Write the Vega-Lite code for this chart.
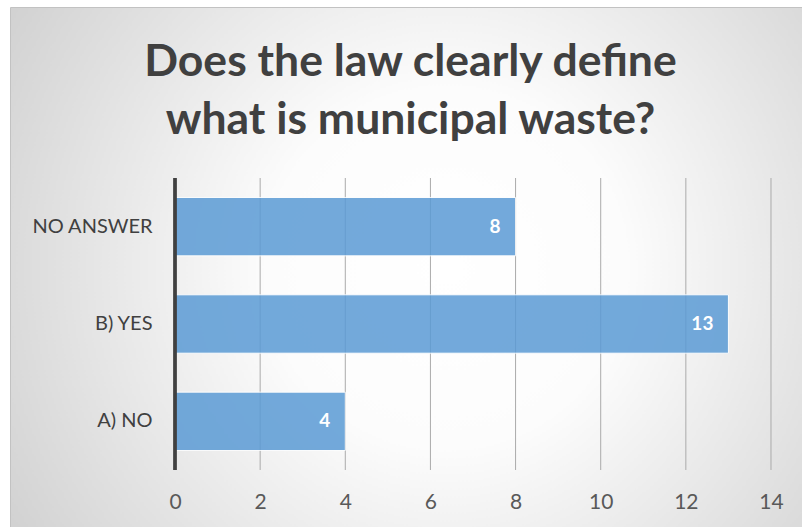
{
  "$schema": "https://vega.github.io/schema/vega-lite/v6.json",
  "width": 793,
  "height": 521,
  "autosize": {"type": "none"},
  "padding": {"left": 10, "top": 7, "right": 0, "bottom": 0},
  "background": "#ffffff",
  "title": {
    "text": ["Does the law clearly define", "what is municipal waste?"],
    "font": "Lato",
    "fontSize": 44.5,
    "fontWeight": "bold",
    "color": "#404040",
    "lineHeight": 58,
    "anchor": "middle",
    "frame": "group",
    "baseline": "alphabetic",
    "dx": 4,
    "offset": -171
  },
  "config": {
    "view": {
      "stroke": "#c2c2c2",
      "strokeWidth": 1,
      "fill": {
        "gradient": "radial",
        "x1": 0.55, "y1": 0.5, "r1": 0,
        "x2": 0.55, "y2": 0.5, "r2": 0.75,
        "stops": [
          {"offset": 0, "color": "#ffffff"},
          {"offset": 0.3, "color": "#fcfcfc"},
          {"offset": 1, "color": "#c6c6c6"}
        ]
      }
    }
  },
  "datasets": {
    "answers": [
      {"answer": "NO ANSWER", "count": 8},
      {"answer": "B) YES", "count": 13},
      {"answer": "A) NO", "count": 4}
    ],
    "gridlines": [
      {"tick": 2}, {"tick": 4}, {"tick": 6}, {"tick": 8}, {"tick": 10}, {"tick": 12}, {"tick": 14}
    ]
  },
  "data": {"name": "answers"},
  "layer": [
    {
      "data": {"name": "gridlines"},
      "mark": {"type": "rule", "color": "#aaaaaa", "strokeWidth": 1},
      "encoding": {
        "x": {"field": "tick", "type": "quantitative"},
        "y": {"datum": "NO ANSWER", "type": "nominal", "bandPosition": -0.3333},
        "y2": {"datum": "A) NO", "bandPosition": 1.3333}
      }
    },
    {
      "mark": {"type": "bar", "color": "#5b9bd5", "opacity": 0.85, "stroke": "#ffffff", "strokeWidth": 1},
      "encoding": {
        "x": {"field": "count", "type": "quantitative"},
        "y": {"field": "answer", "type": "nominal"}
      }
    },
    {
      "mark": {"type": "rule", "color": "#404040", "strokeWidth": 3},
      "encoding": {
        "x": {"datum": 0, "type": "quantitative"},
        "y": {"datum": "NO ANSWER", "type": "nominal", "bandPosition": -0.3333},
        "y2": {"datum": "A) NO", "bandPosition": 1.3333}
      }
    },
    {
      "mark": {"type": "text", "align": "right", "dx": -15, "font": "Lato", "fontSize": 19, "fontWeight": "bold", "color": "#ffffff"},
      "encoding": {
        "x": {"field": "count", "type": "quantitative"},
        "y": {"field": "answer", "type": "nominal"},
        "text": {"field": "count", "type": "quantitative"}
      }
    }
  ],
  "encoding": {
    "y": {
      "field": "answer",
      "type": "nominal",
      "sort": ["NO ANSWER", "B) YES", "A) NO"],
      "scale": {"domain": ["NO ANSWER", "B) YES", "A) NO"], "range": [171, 463], "paddingInner": 0.4, "paddingOuter": 0.2},
      "axis": {
        "title": null,
        "orient": "left",
        "offset": -165,
        "ticks": false,
        "grid": false,
        "domain": false,
        "labelFont": "Lato",
        "labelFontSize": 20,
        "labelColor": "#404040",
        "labelPadding": 23
      }
    },
    "x": {
      "field": "count",
      "type": "quantitative",
      "scale": {"domain": [-3.876, 14.752], "nice": false, "zero": false},
      "axis": {
        "title": null,
        "orient": "bottom",
        "offset": -58,
        "values": [0, 2, 4, 6, 8, 10, 12, 14],
        "ticks": false,
        "domain": false,
        "grid": false,
        "labelFlush": false,
        "labelFont": "Lato",
        "labelFontSize": 21,
        "labelColor": "#595959",
        "labelPadding": 21
      }
    }
  }
}
